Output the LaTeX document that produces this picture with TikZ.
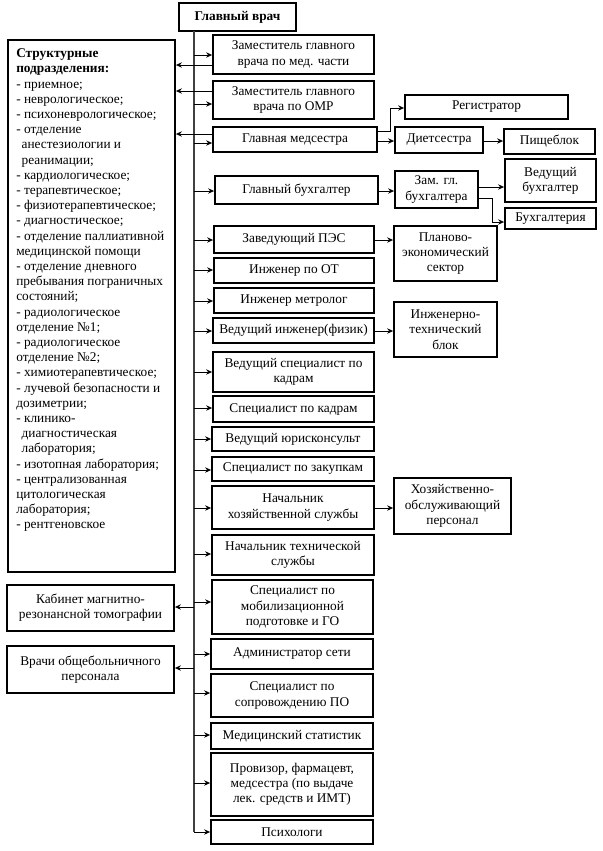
\documentclass[tikz,border=0pt]{standalone}
\usepackage{fontspec}
\setmainfont{Liberation Serif}
\newfontfamily\orgfont{Liberation Serif}
\usetikzlibrary{arrows.meta}
\tikzset{
  box/.style={draw=black, line width=1.3pt, inner sep=1pt, align=center, font=\orgfont\fontsize{10}{11.4}\selectfont},
  arr/.style={line width=0.75pt, -{Stealth[length=4.5pt,width=4pt]}},
  trunkline/.style={line width=1pt, draw=black!75},
}
\newcommand\mybox[6]{\node[box, minimum width={(#4-#2)*0.75pt}, minimum height={(#5-#3)*0.75pt}] (#1) at ({(#2+#4)/2},{(#3+#5)/2}) {#6};}
\newcommand\fromtrunk[2]{\draw[arr] (ttop |- 0,#2) -- (#1.west |- 0,#2);}
\begin{document}
\begin{tikzpicture}[x=0.75pt,y=-0.75pt]
\useasboundingbox (0,0) rectangle (603,851);
% main
\mybox{G}{179}{3}{296}{31}{\textbf{Главный врач}}
\coordinate (ttop) at (194,31);
\coordinate (tbot) at (194,832);
\draw[trunkline] (ttop) -- (tbot);
% left structure box
\node[draw=black, line width=1.3pt, minimum width={167*0.75pt}, minimum height={532*0.75pt}, inner sep=0] (struct) at (91.5,306) {};
\node[anchor=north west, inner sep=0, align=left, font=\orgfont\fontsize{10}{11.4}\selectfont] (structtext) at (16,48.5) {%
\textbf{Структурные}\\
\textbf{подразделения:}\\
- приемное;\\
- неврологическое;\\
- психоневрологическое;\\
- отделение\\
\hspace*{4pt}анестезиологии и\\
\hspace*{4pt}реанимации;\\
- кардиологическое;\\
- терапевтическое;\\
- физиотерапевтическое;\\
- диагностическое;\\
- отделение паллиативной\\
медицинской помощи\\
- отделение дневного\\
пребывания пограничных\\
состояний;\\
- радиологическое\\
отделение №1;\\
- радиологическое\\
отделение №2;\\
- химиотерапевтическое;\\
- лучевой безопасности и\\
дозиметрии;\\
- клинико-\\
\hspace*{4pt}диагностическая\\
\hspace*{4pt}лаборатория;\\
- изотопная лаборатория;\\
- централизованная\\
цитологическая\\
лаборатория;\\
- рентгеновское};
\mybox{mrt}{7}{585}{174}{631}{Кабинет магнитно-\\резонансной томографии}
\mybox{vrachi}{7}{646}{174}{693}{Врачи общебольничного\\персонала}
% column
\mybox{b1}{213}{35}{374}{74}{Заместитель главного\\врача по мед. части}
\mybox{b2}{213}{81}{374}{119}{Заместитель главного\\врача по ОМР}
\mybox{b3}{213}{127}{377}{152}{Главная медсестра}
\mybox{b4}{215}{176}{378}{204}{Главный бухгалтер}
\mybox{b5}{214}{226}{374}{253}{Заведующий ПЭС}
\mybox{b6}{214}{258}{374}{283}{Инженер по ОТ}
\mybox{b7}{214}{288}{374}{313}{Инженер метролог}
\mybox{b8}{213}{318}{374}{343}{Ведущий инженер(физик)}
\mybox{b9}{213}{352}{374}{392}{Ведущий специалист по\\кадрам}
\mybox{b10}{213}{396}{374}{422}{Специалист по кадрам}
\mybox{b11}{212}{427}{374}{451}{Ведущий юрисконсульт}
\mybox{b12}{212}{457}{374}{481}{Специалист по закупкам}
\mybox{b13}{212}{486}{374}{529}{Начальник\\хозяйственной службы}
\mybox{b14}{212}{535}{374}{575}{Начальник технической\\службы}
\mybox{b15}{212}{580}{373}{634}{Специалист по\\мобилизационной\\подготовке и ГО}
\mybox{b16}{211}{639}{373}{669}{Администратор сети}
\mybox{b17}{211}{674}{373}{717}{Специалист по\\сопровождению ПО}
\mybox{b18}{211}{723}{373}{749}{Медицинский статистик}
\mybox{b19}{211}{753}{373}{816}{Провизор, фармацевт,\\медсестра (по выдаче\\лек. средств и ИМТ)}
\mybox{b20}{211}{820}{373}{844}{Психологи}
% right side
\mybox{reg}{405}{95}{568}{119}{Регистратор}
\mybox{diet}{395}{127}{483}{153}{Диетсестра}
\mybox{pish}{504}{129}{595}{154}{Пищеблок}
\mybox{zam}{395}{171}{478}{208}{Зам. гл.\\бухгалтера}
\mybox{vb}{505}{159}{596}{202}{Ведущий\\бухгалтер}
\mybox{buh}{505}{208}{596}{229}{Бухгалтерия}
\mybox{pes}{394}{226}{497}{281}{Планово-\\экономический\\сектор}
\mybox{itb}{394}{302}{497}{357}{Инженерно-\\технический\\блок}
\mybox{hoz}{394}{478}{511}{534}{Хозяйственно-\\обслуживающий\\персонал}
% trunk arrows
\fromtrunk{b1}{55}
\fromtrunk{b2}{104}
\fromtrunk{b3}{143}
\fromtrunk{b4}{191}
\fromtrunk{b5}{240}
\fromtrunk{b6}{270}
\fromtrunk{b7}{301}
\fromtrunk{b8}{331}
\fromtrunk{b9}{372}
\fromtrunk{b10}{408}
\fromtrunk{b11}{439}
\fromtrunk{b12}{470}
\fromtrunk{b13}{508}
\fromtrunk{b14}{554}
\fromtrunk{b15}{602}
\fromtrunk{b16}{654}
\fromtrunk{b17}{693}
\fromtrunk{b18}{735}
\fromtrunk{b19}{783}
\fromtrunk{b20}{832}
% left arrows
\draw[arr] (b1.west |- 0,65) -- (struct.east |- 0,65);
\draw[arr] (b2.west |- 0,91) -- (struct.east |- 0,91);
\draw[arr] (b3.west |- 0,134) -- (struct.east |- 0,134);
\draw[arr] (ttop |- 0,607) -- (mrt.east |- 0,607);
\draw[arr] (ttop |- 0,668) -- (vrachi.east |- 0,668);
% right connectors
\draw[arr] (b3.east |- 0,131) -- (390,131) -- (390,108) -- (reg.west |- 0,108);
\draw[arr] (b3.east |- 0,141) -- (diet.west |- 0,141);
\draw[arr] (diet.east |- 0,141) -- (pish.west |- 0,141);
\draw[arr] (b4.east |- 0,191) -- (zam.west |- 0,191);
\draw[arr] (zam.east |- 0,187) -- (vb.west |- 0,187);
\draw[arr] (zam.east |- 0,198) -- (492,198) -- (492,222) -- (buh.west |- 0,222);
\draw[arr] (b5.east |- 0,240) -- (pes.west |- 0,240);
\draw[arr] (b8.east |- 0,331) -- (itb.west |- 0,331);
\draw[arr] (b13.east |- 0,508) -- (hoz.west |- 0,508);
\end{tikzpicture}
\end{document}
